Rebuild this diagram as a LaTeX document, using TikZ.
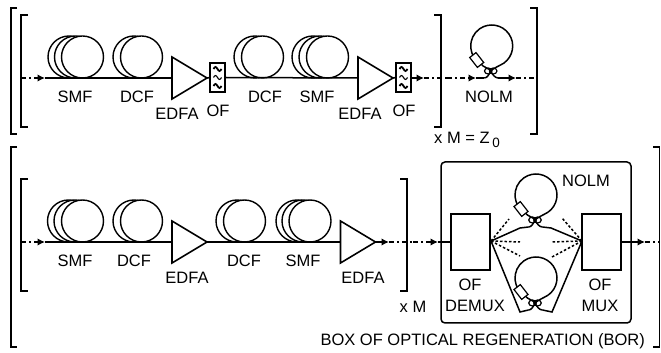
\documentclass[tikz,border=0pt]{standalone}
\usepackage{fontspec}
\setmainfont{Liberation Sans}
\usepackage{tikz}
\usetikzlibrary{calc,shapes,arrows.meta}
\tikzset{
    fibre/.style= {line width=1.5pt},
    link/.style= {fibre,dash pattern=on 5pt off 3pt on 2pt off 3pt},
    tip/.style= {fibre,-{Latex[length=7.5pt,width=7.5pt]}},
    dots/.style= {line width=1.5pt,dash pattern=on 2.5pt off 2pt},
    spool/.style= {shape=circle,minimum size=42pt,inner sep=0,outer sep=0,draw,fill=white,line width=1.4pt},
    edfa/.style= {shape=isosceles triangle,isosceles triangle stretches,minimum width=42pt,minimum height=35pt,inner sep=0,outer sep=0,anchor=apex,draw,fill=white,line width=1.6pt},
    ofbox/.style= {shape=rectangle,minimum width=15pt,minimum height=29pt,inner sep=0,outer sep=0,draw,fill=white,line width=1.7pt},
    muxbox/.style= {shape=rectangle,minimum width=39pt,minimum height=56pt,inner sep=0,outer sep=0,draw,fill=white,line width=1.4pt},
    loopref/.style= {shape=circle,minimum size=42pt,inner sep=0,outer sep=0},
    delay/.style= {shape=rectangle,minimum width=12.5pt,minimum height=8pt,inner sep=0,draw,fill=white,line width=1.2pt,rotate=-52},
    cplr/.style= {shape=ellipse,minimum width=7.5pt,minimum height=6pt,inner sep=0,draw,line width=1.2pt},
    lbl/.style= {inner sep=0,font=\fontsize{16.5}{17}\selectfont}
}

\begin{document}
\begin{tikzpicture}[x=1pt,y=1pt]
    \useasboundingbox (0,0) rectangle (661,353);

    % brackets
    \draw[fibre] (17,345) -- (11,345) -- (11,219) -- (17,219);
    \draw[fibre] (28,338) -- (21,338) -- (21,226) -- (28,226);
    \draw[fibre] (434,338) -- (441,338) -- (441,226) -- (434,226);
    \draw[fibre] (530,345) -- (537,345) -- (537,219) -- (530,219);
    \draw[fibre] (17,206) -- (11,206) -- (11,6) -- (17,6);
    \draw[fibre] (28,174) -- (21,174) -- (21,62) -- (28,62);
    \draw[fibre] (400,174) -- (407,174) -- (407,62) -- (400,62);
    \draw[fibre] (653,206) -- (659.5,206) -- (659.5,6) -- (653,6);

    % upper line
    \foreach \n/\x in {a/69,b/75.5,c/82.5,d/134,e/141.5,f/255,g/262.5,h/313,i/320,j/327.5}
        \node[spool] (u\n) at (\x,296) {};
    \node[edfa] (ua1) at (207,275) {};
    \node[edfa] (ua2) at (393,275) {};
    \node[ofbox] (uf1) at (217.5,275.5) {};
    \node[ofbox] (uf2) at (403.5,275.5) {};
    \coordinate (u0) at (21,275);
    \coordinate (u1) at (37,275);
    \coordinate (u2) at (45,275);
    \coordinate (u3) at (411,275);
    \coordinate (u4) at (424,275);
    \coordinate (u5) at (447,275);
    \coordinate (u6) at (468,275);
    \coordinate (u7) at (476,275);
    \coordinate (u8) at (516,275);
    \coordinate (u10) at (537,275);
    \draw[link] (u0) -- (u1);
    \draw[tip] (u1) -- (u2);
    \draw[fibre] (u2) -- (ua1.lower side);
    \draw[fibre] (ua1.apex) -- (uf1.west);
    \draw[fibre] (uf1.east) -- (ua2.lower side);
    \draw[fibre] (ua2.apex) -- (uf2.west);
    \draw[tip] (u3) -- (u4);
    \draw[link] (u4) -- (u5);
    \draw[link] (u5) -- (u6);
    \draw[tip] (u6) -- (u7);
    \draw[link] (u8) -- (u10);

    % filter inside the OF boxes
    \foreach \f in {uf1,uf2}
        \foreach \k/\w in {-8.5/1.8,0/1.1,8.5/1.8}
            \draw[line width=\w pt] ($(\f.center)+(-4,\k)$) sin +(2,2) cos +(2,-2) sin +(2,-2) cos +(2,2);

    % lower line
    \foreach \n/\x in {a/68.5,b/75,c/82.5,d/134,e/141.5,f/237,g/244.5,h/297,i/303,j/310}
        \node[spool] (l\n) at (\x,132) {};
    \node[edfa] (la1) at (207,111) {};
    \node[edfa] (la2) at (375.5,111) {};
    \node[muxbox] (demux) at (470.5,111) {};
    \node[muxbox] (mux) at (601.5,111) {};
    \coordinate (l0) at (21,111);
    \coordinate (l1) at (37,111);
    \coordinate (l2) at (45,111);
    \coordinate (l4) at (389,111);
    \coordinate (l5) at (413,111);
    \coordinate (l6) at (430,111);
    \coordinate (l7) at (438,111);
    \coordinate (l9) at (645,111);
    \coordinate (l10) at (659,111);
    \draw[link] (l0) -- (l1);
    \draw[tip] (l1) -- (l2);
    \draw[fibre] (l2) -- (la1.lower side);
    \draw[fibre] (la1.apex) -- (la2.lower side);
    \draw[tip] (la2.apex) -- (l4);
    \draw[link] (l4) -- (l5);
    \draw[link] (l5) -- (l6);
    \draw[tip] (l6) -- (l7);
    \draw[fibre] (l7) -- (demux.west);
    \draw[tip] (mux.east) -- (l9);
    \draw[link] (l9) -- (l10);

    % box of regeneration
    \draw[fibre,rounded corners=4pt] (441,191) rectangle (631,30);

    % loops
    \foreach \n/\x/\y in {a/491.7/307,b/536/158,c/536/75} {
        \node[loopref] (loop\n) at (\x,\y) {};
        \coordinate (cp\n) at ($(loop\n.center)+(-1,-25)$);
        \coordinate (cpin\n) at ($(cp\n)+(-6.5,-7)$);
        \coordinate (cpout\n) at ($(cp\n)+(7.5,-7)$);
        \draw[fibre] (loop\n.-55) arc[start angle=-55,end angle=240,radius=21pt];
        \draw[fibre] (loop\n.240) .. controls +(2,-3) and +(-2,3) .. (cp\n)
            .. controls +(2,-4) and +(-3,0) .. (cpout\n);
        \draw[fibre] (loop\n.-55) .. controls +(-5,-3) and +(3,3) .. (cp\n)
            .. controls +(-2,-4) and +(3,0) .. (cpin\n);
        \node[delay] (dl\n) at ($(loop\n.center)+(-15,-14)$) {};
        \node[cplr] (cl\n) at ($(cp\n)+(-2.5,0)$) {};
        \node[cplr] (cr\n) at ($(cp\n)+(2.5,0)$) {};
    }
    \draw[fibre] (u7) -- (cpina);
    \draw[tip] (cpouta) -- (u8);
    \coordinate (fan) at (491,112);
    \coordinate (nap) at (582,112);
    \draw[fibre] (fan) -- (520,125) -- (cpinb);
    \draw[fibre] (nap) -- (551,125) -- (cpoutb);
    \draw[fibre] (fan) -- (520,41) -- (cpinc);
    \draw[fibre] (nap) -- (552,41) -- (cpoutc);
    \draw[dots] (fan) -- (509,134);
    \draw[dots] (fan) -- (520,111);
    \draw[dots] (fan) -- (520,97);
    \draw[dots] (nap) -- (562,135);
    \draw[dots] (nap) -- (551,111);
    \draw[dots] (nap) -- (552,96);

    % labels
    \node[lbl] (t1) at (75,256) {SMF};
    \node[lbl] (t2) at (137,256) {DCF};
    \node[lbl] (t3) at (177,239) {EDFA};
    \node[lbl] (t4) at (218,242) {OF};
    \node[lbl] (t5) at (265,256) {DCF};
    \node[lbl] (t6) at (317,256) {SMF};
    \node[lbl] (t7) at (360,239) {EDFA};
    \node[lbl] (t8) at (404,242) {OF};
    \node[lbl] (t9) at (489,256) {NOLM};
    \node[lbl,anchor=west] (t10) at (434,213) {x M = Z\,\raisebox{-4pt}{\fontsize{13.5}{14}\selectfont 0}};
    \node[lbl] (b1) at (75,92) {SMF};
    \node[lbl] (b2) at (134,92) {DCF};
    \node[lbl] (b3) at (187,75) {EDFA};
    \node[lbl] (b4) at (244,92) {DCF};
    \node[lbl] (b5) at (303,92) {SMF};
    \node[lbl] (b6) at (363,75) {EDFA};
    \node[lbl] (b7) at (413,46) {x M};
    \node[lbl] (b8) at (470,68) {OF};
    \node[lbl] (b9) at (475,47) {DEMUX};
    \node[lbl] (b10) at (600,68) {OF};
    \node[lbl] (b11) at (600,47) {MUX};
    \node[lbl] (b12) at (586,172) {NOLM};
    \node[lbl,anchor=east] (b13) at (645,12) {BOX OF OPTICAL REGENERATION (BOR)};
\end{tikzpicture}
\end{document}
